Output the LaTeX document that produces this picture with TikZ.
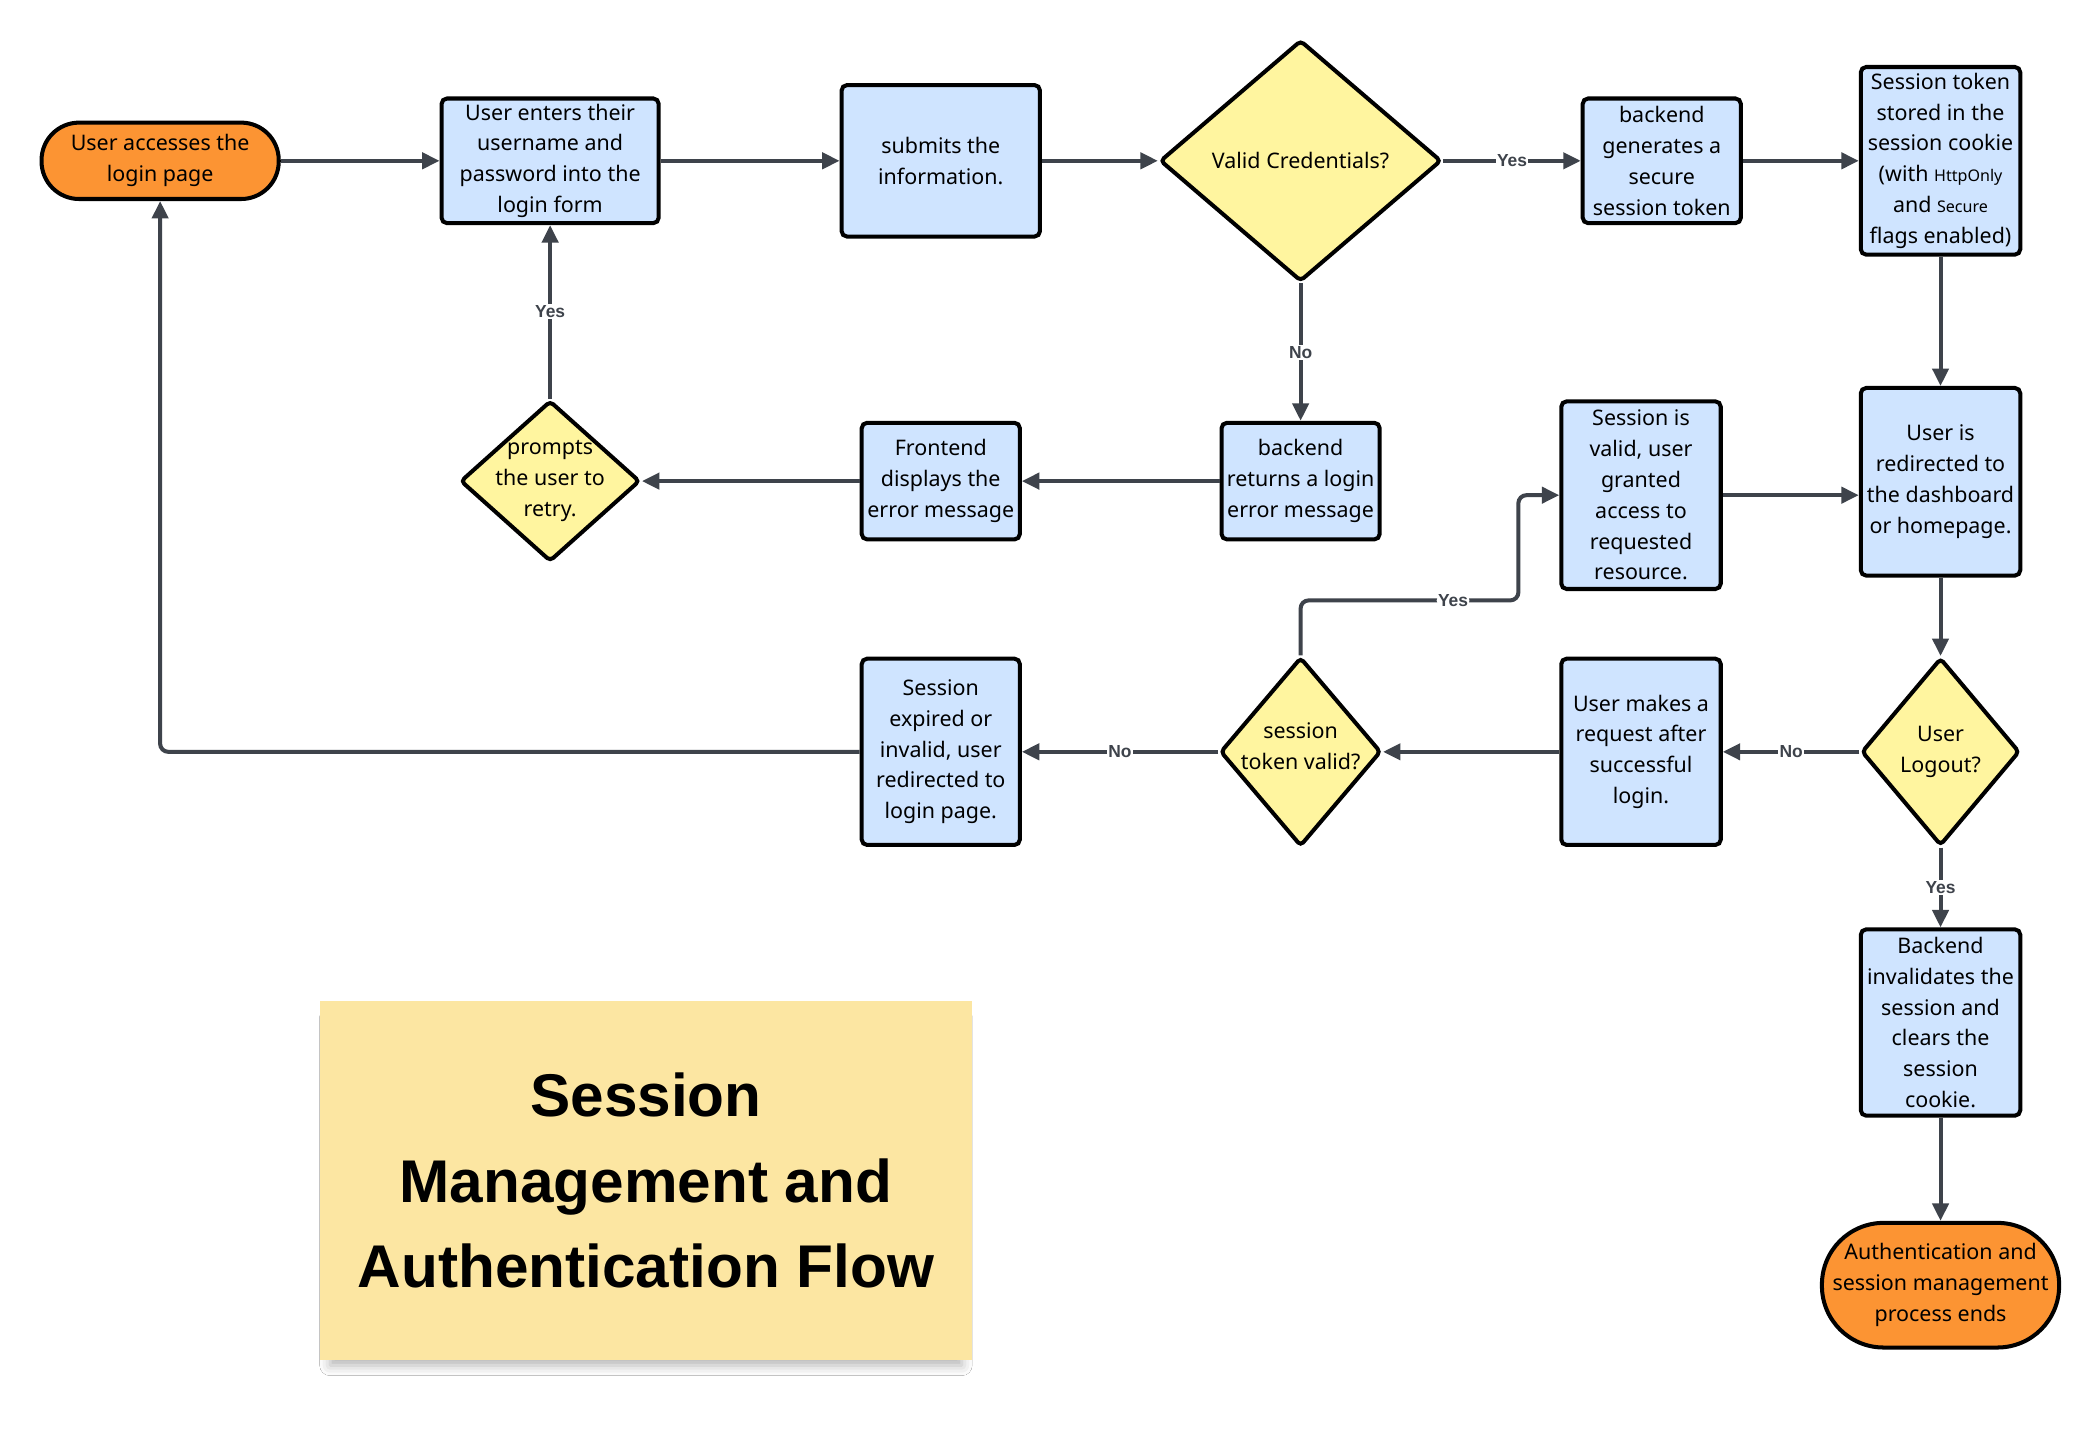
\documentclass[tikz,border=0pt]{standalone}
\usepackage{fontspec}
\setmainfont{Noto Sans}
\newfontfamily\headfont{Liberation Sans}
\usepackage{tikz}
\usetikzlibrary{arrows.meta, shapes.geometric, positioning, shadows.blur}

\definecolor{startorange}{HTML}{FC9433}
\definecolor{stepblue}{HTML}{CFE4FF}
\definecolor{askyellow}{HTML}{FFF59F}
\definecolor{linegray}{HTML}{3E434B}
\definecolor{noteyellow}{HTML}{FCE6A2}

\newcommand{\boxfont}{\fontsize{16}{23}\selectfont}
\newcommand{\flagfont}{\fontsize{12}{23}\selectfont}

\tikzset{
  terminal/.style={rectangle, draw=black, line width=3pt, fill=startorange, align=center, font=\boxfont, inner sep=2pt},
  process/.style={rectangle, draw=black, line width=3pt, fill=stepblue, rounded corners=4pt, align=center, font=\boxfont, inner sep=2pt},
  decision/.style={diamond, draw=black, line width=3pt, fill=askyellow, rounded corners=3pt, inner sep=0pt},
  asktext/.style={align=center, font=\boxfont, inner sep=0pt},
  flow/.style={draw=linegray, line width=3pt, -{Triangle[length=13pt, width=12pt]}},
  lbl/.style={fill=white, text=linegray, font=\headfont\bfseries\fontsize{13}{13}\selectfont, inner sep=1pt},
  note/.style={rectangle, fill=noteyellow, align=center, font=\headfont\bfseries\fontsize{45}{64}\selectfont,
    blur shadow={shadow xshift=0pt, shadow yshift=-8pt, shadow scale=0.97, shadow blur radius=8pt, shadow opacity=30}},
}

\begin{document}
\begin{tikzpicture}[x=1pt, y=-1pt]
  \fill[white] (0,0) rectangle (1567,1075);
  \useasboundingbox (0,0) rectangle (1567,1075);

  % top row
  \node[terminal, minimum width=177pt, minimum height=57pt, rounded corners=28pt] (start) at (119.5,120) {User accesses the\\login page};
  \node[process, minimum width=162pt, minimum height=93pt] (enter) at (410.5,120) {User enters their\\username and\\password into the\\login form};
  \node[process, minimum width=148pt, minimum height=113pt] (submit) at (702,120) {submits the\\information.};
  \node[decision, minimum width=210pt, minimum height=180pt, label={[asktext]center:Valid Credentials?}] (valid) at (970.5,120) {};
  \node[process, minimum width=118pt, minimum height=93pt] (gen) at (1240,120) {backend\\generates a\\secure\\session token};
  \node[process, minimum width=119pt, minimum height=140pt] (stored) at (1448,120) {Session token\\stored in the\\session cookie\\(with {\flagfont HttpOnly}\\and {\flagfont Secure}\\flags enabled)};

  % second row
  \node[decision, minimum width=134pt, minimum height=120pt, label={[asktext]center:prompts\\the user to\\retry.}] (retry) at (410.5,359) {};
  \node[process, minimum width=118pt, minimum height=87pt] (showerr) at (702,359) {Frontend\\displays the\\error message};
  \node[process, minimum width=118pt, minimum height=87pt] (loginerr) at (970.5,359) {backend\\returns a login\\error message};
  \node[process, minimum width=119pt, minimum height=140pt] (granted) at (1224.5,369.5) {Session is\\valid, user\\granted\\access to\\requested\\resource.};
  \node[process, minimum width=119pt, minimum height=140pt] (dash) at (1448,359.5) {User is\\redirected to\\the dashboard\\or homepage.};

  % third row
  \node[process, minimum width=118pt, minimum height=139pt] (expired) at (702,561) {Session\\expired or\\invalid, user\\redirected to\\login page.};
  \node[decision, minimum width=120pt, minimum height=141pt, label={[asktext, yshift=4pt]center:session\\token valid?}] (tokvalid) at (970.5,561) {};
  \node[process, minimum width=119pt, minimum height=139pt] (request) at (1224.5,561) {User makes a\\request after\\successful\\login.};
  \node[decision, minimum width=118pt, minimum height=140pt, label={[asktext]center:User\\Logout?}] (logout) at (1448,561) {};

  % right column
  \node[process, minimum width=119pt, minimum height=139pt] (clear) at (1448,763) {Backend\\invalidates the\\session and\\clears the\\session\\cookie.};
  \node[terminal, minimum width=177pt, minimum height=93pt, rounded corners=46pt] (finish) at (1448,959) {Authentication and\\session management\\process ends};

  % title note
  \node[note, minimum width=486pt, minimum height=268pt] (title) at (482,881) {Session\\Management and\\Authentication Flow};

  \coordinate (yesbend) at (1133,448);

  \draw[flow] (start) -- (enter);
  \draw[flow] (enter) -- (submit);
  \draw[flow] (submit) -- (valid);
  \draw[flow] (valid) -- node[lbl] {Yes} (gen);
  \draw[flow] (gen) -- (stored);
  \draw[flow] (stored) -- (dash);
  \draw[flow] (valid) -- node[lbl] {No} (loginerr);
  \draw[flow] (loginerr) -- (showerr);
  \draw[flow] (showerr) -- (retry);
  \draw[flow] (retry) -- node[lbl] {Yes} (enter);
  \draw[flow] (granted.east) -- (granted.east -| dash.west);
  \draw[flow] (dash) -- (logout);
  \draw[flow] (logout) -- node[lbl] {No} (request);
  \draw[flow] (logout) -- node[lbl] {Yes} (clear);
  \draw[flow] (clear) -- (finish);
  \draw[flow] (request) -- (tokvalid);
  \draw[flow] (tokvalid) -- node[lbl] {No} (expired);
  \draw[flow, rounded corners=6pt] (tokvalid.north) |- node[lbl, pos=0.85] {Yes} (yesbend) |- (granted.west);
  \draw[flow, rounded corners=6pt] (expired.west) -| (start.south);
\end{tikzpicture}
\end{document}
